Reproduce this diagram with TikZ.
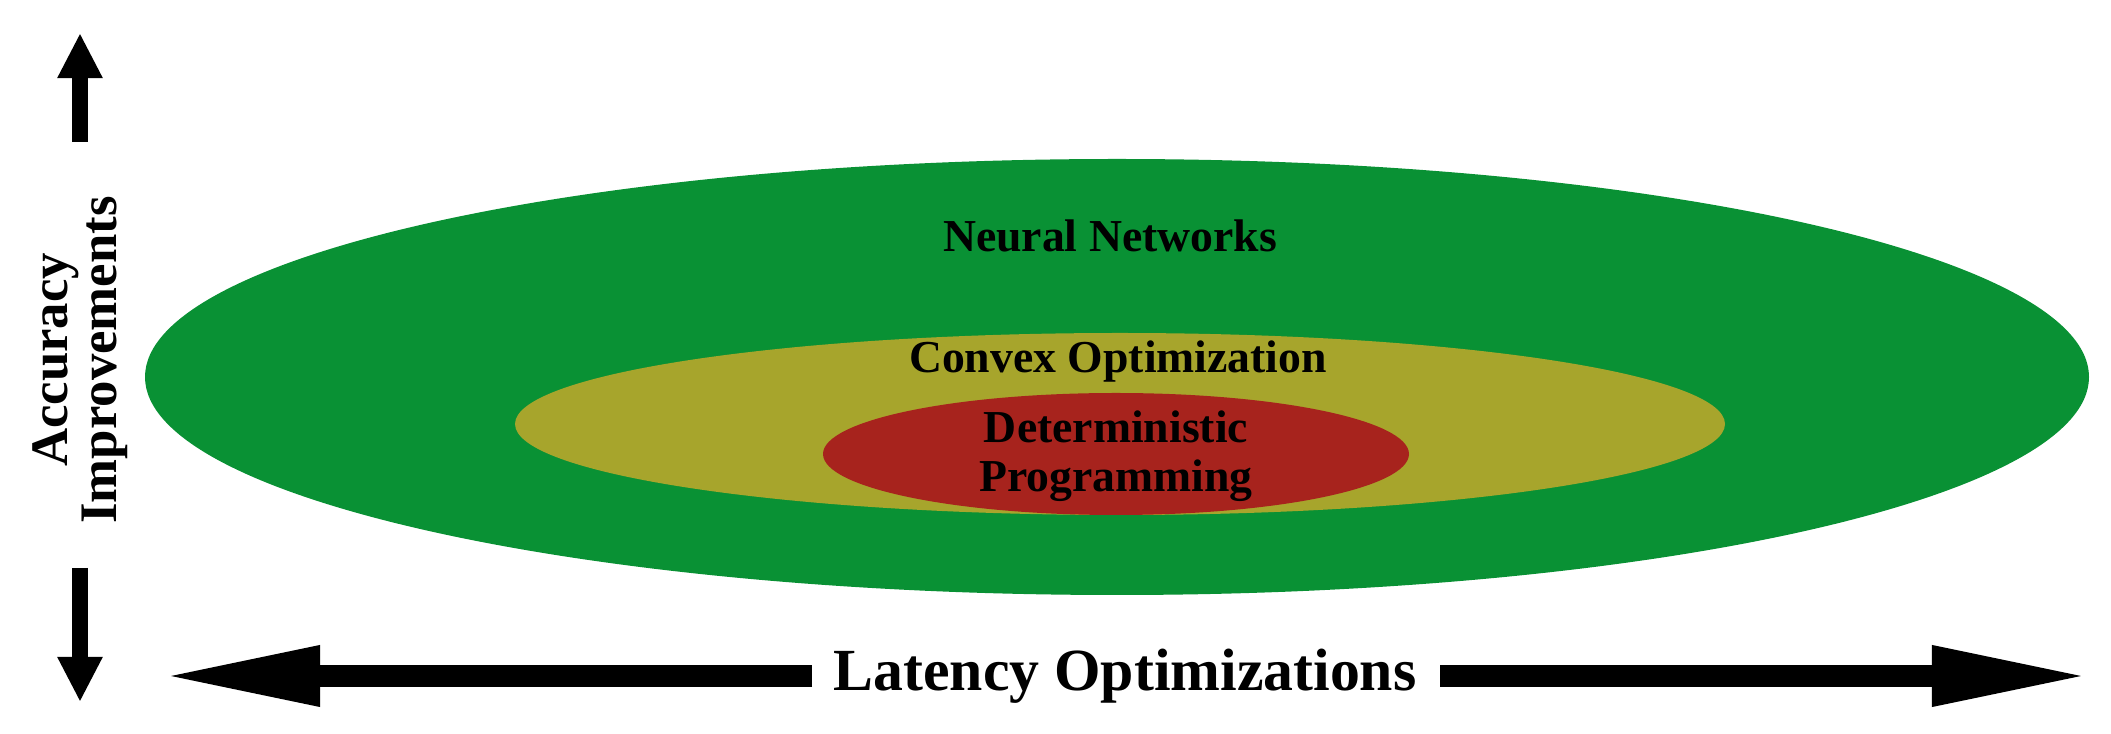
\documentclass[tikz,border=0pt]{standalone}
\usepackage{fontspec}
\setmainfont{Liberation Serif}
\usetikzlibrary{arrows.meta}
\definecolor{gr}{RGB}{9,145,52}
\definecolor{yl}{RGB}{167,165,44}
\definecolor{rd}{RGB}{167,35,29}
\tikzset{lbl/.style={font=\bfseries\fontsize{13}{15}\selectfont, align=center, text=black},
 harr/.style={line width=0.22cm, -{Triangle[length=1.6cm,width=0.55cm]}},
 varr/.style={line width=0.15cm, -{Triangle[length=0.45cm,width=0.42cm]}}}
\begin{document}
\begin{tikzpicture}[x=0.01cm,y=-0.01cm]
\useasboundingbox (0,0) rectangle (2111,734);
\fill[gr] (1117,377) ellipse [x radius=972, y radius=218];
\fill[yl] (1120,424) ellipse [x radius=605, y radius=91];
\fill[rd] (1116,454) ellipse [x radius=293, y radius=61];
\node[lbl] (nn) at (1110,236) {Neural Networks};
\node[lbl] (co) at (1118,362) {Convex Optimization};
\node[lbl] (dp) at (1116,456) {Deterministic\\[-1pt]Programming};
\node[lbl, font=\bfseries\fontsize{17}{18}\selectfont] (lo) at (1125,676) {Latency Optimizations};
\node[lbl, font=\bfseries\fontsize{15}{16}\selectfont, rotate=90] (ai) at (80,360) {Accuracy\\[-2pt]Improvements};
\coordinate (l0) at (812,676); \coordinate (l1) at (160,676);
\coordinate (r0) at (1440,676); \coordinate (r1) at (2092,676);
\coordinate (u0) at (80,142); \coordinate (u1) at (80,33);
\coordinate (d0) at (80,568); \coordinate (d1) at (80,702);
\draw[harr] (l0) -- (l1);
\draw[harr] (r0) -- (r1);
\draw[varr] (u0) -- (u1);
\draw[varr] (d0) -- (d1);
\end{tikzpicture}
\end{document}
